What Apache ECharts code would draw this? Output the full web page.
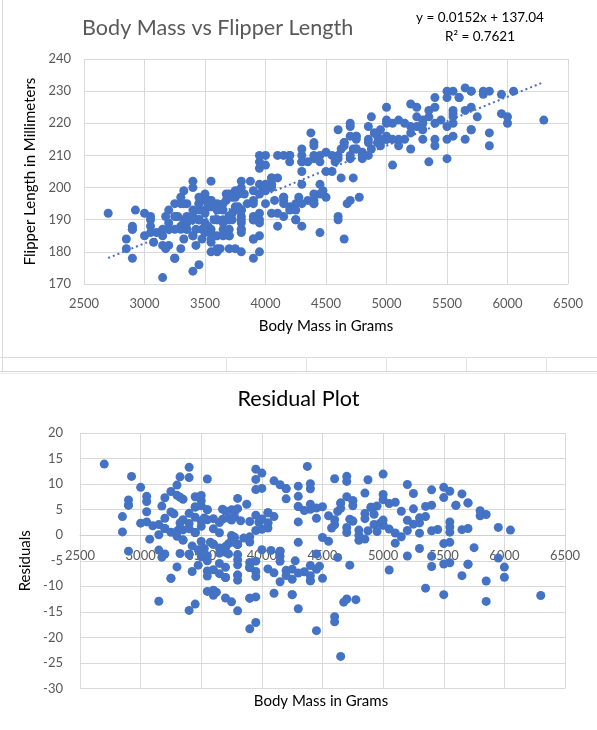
<!DOCTYPE html>
<html>
<head>
<meta charset="utf-8">
<script src="https://cdn.jsdelivr.net/npm/echarts@6/dist/echarts.min.js"></script>
<style>
html,body{margin:0;padding:0;background:#fff;}
#chart{width:597px;height:730px;}
</style>
</head>
<body>
<div id="chart"></div>
<script>
// ---- Data (Palmer penguins, complete cases) ----
const adelieMass = [3750,3800,3250,3450,3650,3625,4675,3200,3800,4400,
3700,3450,4500,3325,4200,3400,3600,3800,3950,3800,
3800,3550,3200,3150,3950,3250,3900,3300,3900,3325,
4150,3950,3550,3300,4650,3150,3900,3100,4400,3000,
4600,3425,3450,4150,3500,4300,3450,4050,2900,3700,
3550,3800,2850,3750,3150,4400,3600,4050,2850,3950,
3350,4100,3050,4450,3600,3900,3550,4150,3700,4250,
3700,3900,3550,4000,3200,4700,3800,4200,3350,3550,
3800,3500,3950,3600,3550,4300,3400,4450,3300,4300,
3700,4350,2900,4100,3725,4725,3075,4250,2925,3550,
3750,3900,3175,4775,3825,4600,3200,4275,3900,4075,
2900,3775,3350,3325,3150,3500,3450,3875,3050,4000,
3275,4300,3050,4000,3325,3500,3500,4475,3425,3900,
3175,3975,3400,4250,3400,3475,3050,3725,3000,3650,
4250,3475,3450,3750,3700,4000];
const adelieFlipper = [181,186,195,193,190,181,195,182,191,198,
185,195,197,184,194,174,180,189,185,180,
187,183,187,172,180,178,178,188,184,195,
196,190,180,181,184,182,195,186,196,185,
190,182,190,191,186,188,190,200,187,191,
186,193,181,194,185,195,185,192,184,192,
195,188,190,198,190,190,196,197,190,195,
191,184,187,195,189,196,187,193,191,194,
190,189,189,190,202,205,185,186,187,208,
190,196,178,192,192,203,183,190,193,184,
199,190,181,197,198,191,193,197,191,196,
188,199,189,189,187,198,176,202,186,199,
191,195,191,210,190,197,193,199,187,190,
191,200,185,193,193,187,188,190,192,185,
190,184,195,193,187,201];
const gentooMass = [4500,5700,4450,5700,5400,4550,4800,5200,4400,5150,
4650,5550,4650,5850,4200,5850,4150,6300,4800,5350,
5700,5000,4400,5050,5000,5100,5650,4600,5550,5250,
4700,5050,6050,5150,5400,4950,5250,4350,5350,3950,
5700,4300,4750,5550,4900,4200,5400,5100,5300,4850,
5300,4400,5000,4900,5050,4300,5000,4450,5550,4200,
5300,4400,5650,4700,5700,5800,4700,5550,4750,5000,
5100,5200,4700,5800,4600,6000,4750,5950,4625,5450,
4725,5350,4750,5600,4600,5300,4875,5550,4950,5400,
4750,5650,4850,5200,4925,4875,4625,5250,4850,5600,
4975,5500,5500,4700,5500,4575,5500,5000,5950,4650,
5500,4375,5850,6000,4925,4850,5750,5200,5400];
const gentooFlipper = [211,230,210,218,215,210,211,219,209,215,
214,216,214,213,210,217,210,221,209,222,
218,215,213,215,215,215,215,210,220,222,
209,207,230,220,220,213,219,208,208,208,
225,210,216,222,217,210,225,213,215,210,
220,210,225,217,220,208,220,208,224,208,
221,214,231,219,230,229,220,223,216,221,
221,217,216,230,209,220,215,223,212,221,
212,224,212,228,218,218,212,230,218,228,
212,224,214,226,216,222,203,225,219,228,
215,228,215,210,219,208,209,216,229,213,
230,217,230,222,214,215,222,212,213];
const chinstrapMass = [3500,3900,3650,3525,3725,3950,3250,3750,4150,3700,
3800,3775,3700,4050,3575,4050,3300,3700,3450,4400,
3600,3400,2900,3800,3300,4150,3400,3800,3700,4550,
3200,4300,3350,4100,3600,3900,3850,4800,2700,4500,
3950,3650,3550,3500,3675,4450,3400,4300,3250,3675,
3325,3950,3600,4050,3350,3450,3250,4050,3800,3525,
3950,3650,3650,4000,3400,3775,4100,3775];
const chinstrapFlipper = [192,196,193,188,197,198,178,197,195,198,
193,194,185,201,190,201,197,181,190,195,
181,191,187,193,195,197,200,200,191,205,
187,201,187,203,195,199,195,210,192,205,
210,187,196,196,196,201,190,212,187,198,
199,201,193,203,187,197,191,203,202,194,
206,189,195,207,202,193,210,198];

// Trendline coefficients as printed on the chart
const trendSlope = 0.0152;
const trendIntercept = 137.04;
const rSquared = 0.7621;

// Tick settings
const xTicks = {min: 2500, max: 6500, step: 500};
const yTicksTop = {min: 170, max: 240, step: 10};
const yTicksRes = {min: -30, max: 20, step: 5};

// ---- Build series data ----
const mass = adelieMass.concat(gentooMass, chinstrapMass);
const flipper = adelieFlipper.concat(gentooFlipper, chinstrapFlipper);
const points = mass.map((m, i) => [m, flipper[i]]);
const residuals = mass.map((m, i) => [m, flipper[i] - (trendSlope * m + trendIntercept)]);
const xMin = Math.min.apply(null, mass), xMax = Math.max.apply(null, mass);
const trend = [[xMin, trendSlope * xMin + trendIntercept], [xMax, trendSlope * xMax + trendIntercept]];

const FONT = 'Lato, "Open Sans", sans-serif';
const BLUE = '#4472c4';
const GRID = '#d9d9d9';
const LABEL = '#595959';
const plain = v => String(v);

// residual grid geometry; x axis sits on the zero line
const resGrid = {left: 80, top: 433, width: 485, height: 255.5};
const zeroOffset = -resGrid.height * (0 - yTicksRes.min) / (yTicksRes.max - yTicksRes.min);

const chart = echarts.init(document.getElementById('chart'), null, {renderer: 'canvas'});

const sheetLines = [];
function hline(x1, x2, y, c) { sheetLines.push({type: 'line', silent: true, z: -10, shape: {x1: x1, y1: y, x2: x2, y2: y}, style: {stroke: c, lineWidth: 1}}); }
function vline(x, y1, y2, c) { sheetLines.push({type: 'line', silent: true, z: -10, shape: {x1: x, y1: y1, x2: x, y2: y2}, style: {stroke: c, lineWidth: 1}}); }
vline(2.5, 0, 371, '#dadada');
hline(0, 597, 357.5, '#dadada');
[226.5, 306.5, 386.5, 466.5, 546.5].forEach(x => vline(x, 357, 371, '#e2e2e2'));
hline(0, 597, 371.5, '#d6d6d6');
hline(0, 597, 373.5, '#ececec');

const option = {
  animation: false,
  backgroundColor: '#fff',
  textStyle: {fontFamily: FONT},
  title: [
    {text: 'Body Mass vs Flipper Length', left: 82, top: 15, padding: 0,
     textStyle: {fontFamily: FONT, fontSize: 21.6, fontWeight: 'normal', color: '#595959', lineHeight: 26}},
    {text: 'Residual Plot', left: 'center', top: 386, padding: 0,
     textStyle: {fontFamily: FONT, fontSize: 21.6, fontWeight: 'normal', color: '#000', lineHeight: 26}}
  ],
  graphic: sheetLines.concat([
    {type: 'text', x: 480, y: 18, silent: true,
     style: {text: 'y = ' + trendSlope + 'x + ' + trendIntercept, fill: '#000', font: '13.5px ' + FONT, align: 'center', verticalAlign: 'middle'}},
    {type: 'text', x: 480, y: 37, silent: true,
     style: {text: 'R\u00B2 = ' + rSquared, fill: '#000', font: '13.5px ' + FONT, align: 'center', verticalAlign: 'middle'}},
    {type: 'text', x: 321, y: 701, silent: true,
     style: {text: 'Body Mass in Grams', fill: '#000', font: '15px ' + FONT, align: 'center', verticalAlign: 'middle'}}
  ]),
  grid: [
    {left: 84, top: 59, width: 484, height: 225, containLabel: false},
    Object.assign({containLabel: false}, resGrid)
  ],
  xAxis: [
    {gridIndex: 0, type: 'value', min: xTicks.min, max: xTicks.max, interval: xTicks.step,
     axisLine: {show: false}, axisTick: {show: false},
     axisLabel: {color: LABEL, fontSize: 13, margin: 13, fontFamily: FONT, formatter: plain},
     splitLine: {show: true, lineStyle: {color: GRID, width: 1}},
     name: 'Body Mass in Grams', nameLocation: 'middle', nameGap: 35,
     nameTextStyle: {color: '#000', fontSize: 15, fontFamily: FONT}},
    {gridIndex: 1, type: 'value', min: xTicks.min, max: xTicks.max, interval: xTicks.step,
     position: 'bottom', offset: zeroOffset,
     axisLine: {show: true, onZero: false, lineStyle: {color: '#cfcfcf', width: 1}}, axisTick: {show: false},
     axisLabel: {color: LABEL, fontSize: 13, margin: 14, fontFamily: FONT, formatter: plain},
     splitLine: {show: true, lineStyle: {color: GRID, width: 1}}}
  ],
  yAxis: [
    {gridIndex: 0, type: 'value', min: yTicksTop.min, max: yTicksTop.max, interval: yTicksTop.step,
     axisLine: {show: false}, axisTick: {show: false},
     axisLabel: {color: LABEL, fontSize: 13, margin: 13, fontFamily: FONT, formatter: plain},
     splitLine: {show: true, lineStyle: {color: GRID, width: 1}},
     name: 'Flipper Length in Millimeters', nameLocation: 'middle', nameGap: 35, nameRotate: 90,
     nameTextStyle: {color: '#000', fontSize: 15, fontFamily: FONT}},
    {gridIndex: 1, type: 'value', min: yTicksRes.min, max: yTicksRes.max, interval: yTicksRes.step,
     axisLine: {show: false}, axisTick: {show: false},
     axisLabel: {color: LABEL, fontSize: 13, margin: 17, fontFamily: FONT, formatter: plain},
     splitLine: {show: true, lineStyle: {color: GRID, width: 1}},
     name: 'Residuals', nameLocation: 'middle', nameGap: 32, nameRotate: 90,
     nameTextStyle: {color: '#000', fontSize: 15, fontFamily: FONT}}
  ],
  series: [
    {type: 'scatter', xAxisIndex: 0, yAxisIndex: 0, data: points, symbolSize: 9,
     itemStyle: {color: BLUE, opacity: 1}, z: 3},
    {type: 'line', xAxisIndex: 0, yAxisIndex: 0, data: trend, showSymbol: false, symbol: 'none',
     lineStyle: {color: BLUE, width: 2, type: [2, 3]}, z: 4, silent: true},
    {type: 'scatter', xAxisIndex: 1, yAxisIndex: 1, data: residuals, symbolSize: 9,
     itemStyle: {color: BLUE, opacity: 1}, z: 3}
  ]
};
chart.setOption(option);
</script>
</body>
</html>
